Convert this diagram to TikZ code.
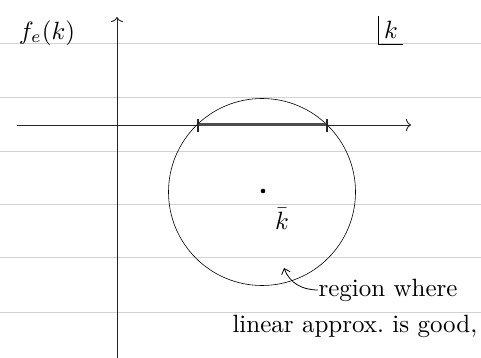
\documentclass[tikz,border=0pt]{standalone}
\usepackage{tikz}
\usetikzlibrary{positioning,arrows.meta}

\begin{document}
\begin{tikzpicture}[x=1pt, y=-1pt,
  rule/.style={gray!35, line width=0.6pt},
  axis/.style={-{To[length=5pt,width=12pt]}, line width=0.9pt, black!85},
  hand/.style={scale=2.5, transform shape, inner sep=0pt},
  tickmark/.style={line width=1.1pt, black!85},
  kband/.style={line width=3pt, black!70},
  note/.style={-{Straight Barb[length=5pt,width=9pt]}, line width=0.8pt}
]
  \useasboundingbox (0,0) rectangle (481,358);
  % ruled paper
  \foreach \y in {43,97,151,204,257,312}
    \draw[rule] (0,\y) -- (481,\y);

  % axes
  \coordinate (xl) at (17,125);
  \coordinate (xr) at (411,125);
  \coordinate (yb) at (117,358);
  \coordinate (yt) at (117,17);
  \draw[axis] (xl) -- (xr);
  \draw[axis] (yb) -- (yt);

  \node[hand] (flab) at (47,33) {$f_e(k)$};
  \node[hand, inner sep=2pt] (kvar) at (391,30) {$k$};
  \draw[line width=0.9pt] (kvar.north west) |- (kvar.south east);

  % region around kbar
  \coordinate (ctr) at (262,192);
  \draw[line width=0.6pt] (ctr) circle (93.5pt);
  \fill (263,191) circle (2.3pt);
  \node[hand] (kbar) at (282,219) {$\bar{k}$};

  \coordinate (a) at (198,125);
  \coordinate (b) at (327,125);
  \draw[kband] (a) -- (b);
  \draw[tickmark] ([yshift=6pt]a) -- ([yshift=-7pt]a);
  \draw[tickmark] ([yshift=6pt]b) -- ([yshift=-7pt]b);

  % annotation
  \node[hand, anchor=west] (note1) at (318,290) {region where};
  \node[hand, anchor=west] (note2) at (232,326) {linear approx.\ is good,};
  \coordinate (tip) at (284,268);
  \draw[note] (note1.west) to[out=180, in=-70] (tip);
\end{tikzpicture}
\end{document}
